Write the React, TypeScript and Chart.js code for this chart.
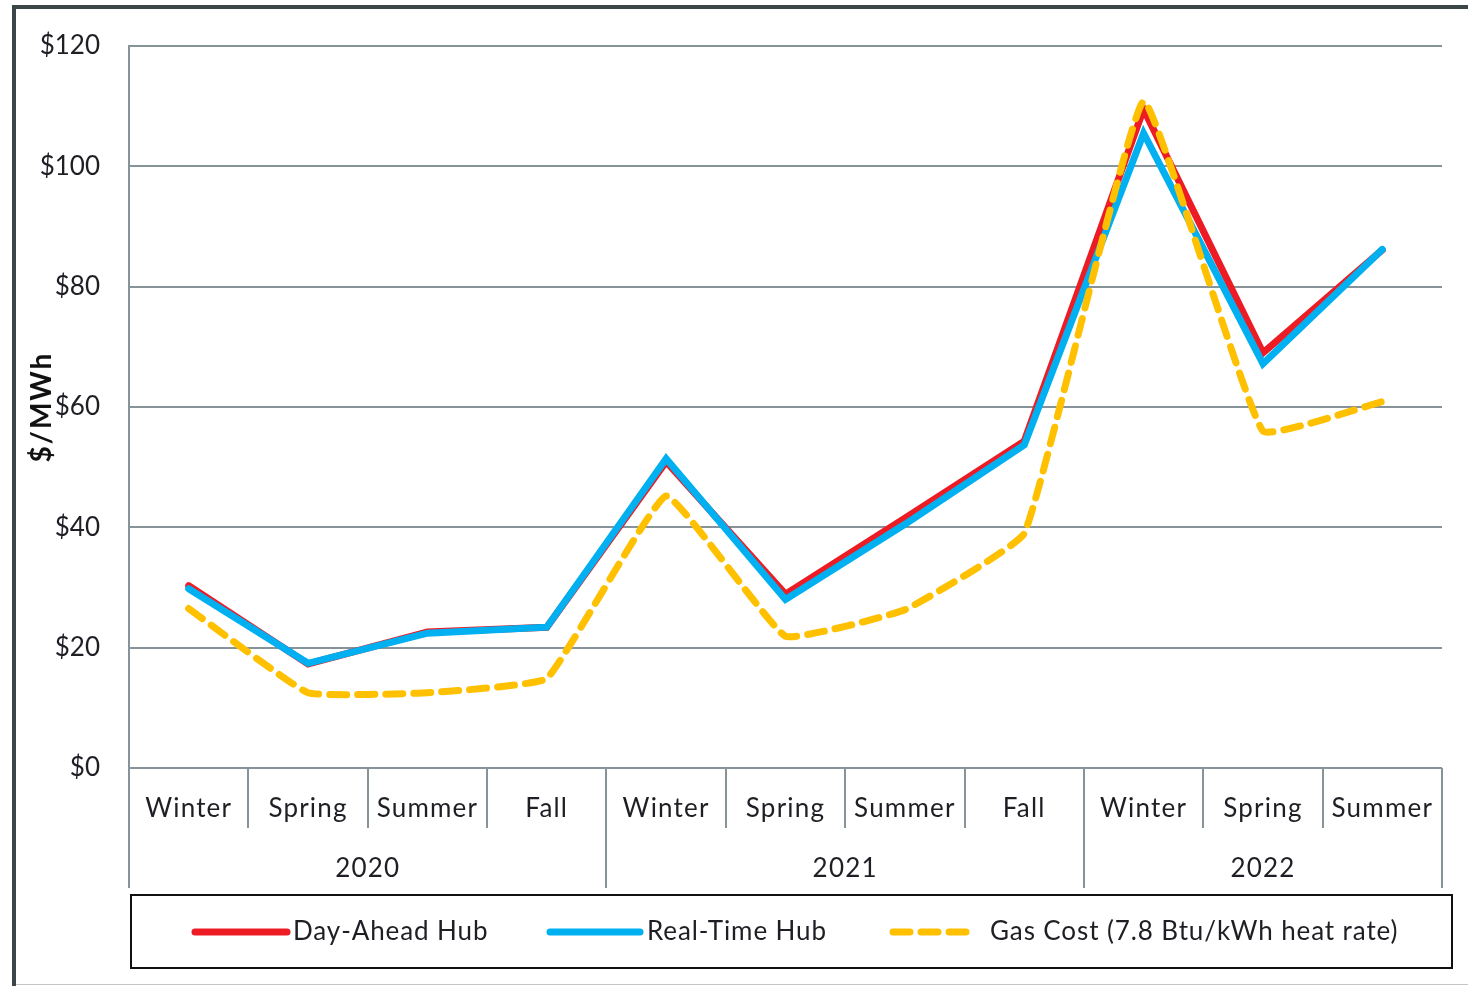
import React, { useEffect, useRef } from "react";
import { Chart, registerables } from "chart.js";

Chart.register(...registerables);

const seasons = ["Winter", "Spring", "Summer", "Fall", "Winter", "Spring", "Summer", "Fall", "Winter", "Spring", "Summer"];
const years = ["2020", "2021", "2022"];
const yearSpans = [4, 4, 3];
const dayAhead = [30.3, 17.3, 22.6, 23.4, 50.9, 28.9, 41.5, 54.3, 109.5, 69.0, 86.1];
const realTime = [29.8, 17.4, 22.4, 23.4, 51.4, 28.0, 40.5, 53.7, 105.5, 67.2, 86.2];
const gasCost = [26.5, 12.5, 12.5, 14.9, 45.2, 21.9, 26.3, 39.0, 110.8, 56.0, 60.9];
const yTicks = [0, 20, 40, 60, 80, 100, 120];

const FONT = "Lato, 'Open Sans', sans-serif";
const TEXT = "#1e1e24";
const GRID = "#86949a";

const overlay = {
  id: "overlay",
  afterDraw(chart: any) {
    const ctx = chart.ctx;
    const x = chart.scales.x;
    const area = chart.chartArea;
    const n = seasons.length;
    const step = (area.right - area.left) / n;
    const base = area.bottom;
    ctx.save();
    // outer frame
    ctx.fillStyle = "#3c4649";
    ctx.fillRect(12, 5, 4, 981);
    ctx.fillRect(12, 5, 1456, 4);
    ctx.fillStyle = "#c4c4c4";
    ctx.fillRect(16, 984, 1452, 1);

    // category axis table
    ctx.strokeStyle = GRID;
    ctx.lineWidth = 2;
    const boundaries: number[] = [];
    let acc = 0;
    boundaries.push(0);
    yearSpans.forEach((s) => { acc += s; boundaries.push(acc); });
    for (let i = 0; i <= n; i++) {
      const px = Math.round(x.getPixelForValue(i) - step / 2);
      const isYear = boundaries.includes(i);
      ctx.beginPath();
      ctx.moveTo(px, base);
      ctx.lineTo(px, isYear ? base + 120 : base + 60);
      ctx.stroke();
    }
    ctx.fillStyle = TEXT;
    ctx.font = `26px ${FONT}`;
    (ctx as any).letterSpacing = "1.2px";
    ctx.textAlign = "center";
    ctx.textBaseline = "middle";
    seasons.forEach((s, i) => {
      ctx.fillText(s, x.getPixelForValue(i), base + 41);
    });
    let start = 0;
    years.forEach((yr, k) => {
      const end = start + yearSpans[k];
      const cx = (x.getPixelForValue(start) + x.getPixelForValue(end - 1)) / 2;
      ctx.fillText(yr, cx, base + 101);
      start = end;
    });

    // y title
    ctx.save();
    ctx.translate(42, 407);
    ctx.rotate(-Math.PI / 2);
    ctx.font = `bold 28px ${FONT}`;
    (ctx as any).letterSpacing = "2px";
    ctx.fillStyle = "#111";
    ctx.fillText("$/MWh", 0, 0);
    ctx.restore();

    // legend
    ctx.strokeStyle = "#111";
    ctx.lineWidth = 2;
    ctx.strokeRect(131, 895, 1321, 73);
    const ly = 932;
    const items = [
      { x0: 195, x1: 287, color: "#ed1c24", width: 7, dash: [] as number[], label: "Day-Ahead Hub", tx: 293 },
      { x0: 550, x1: 640, color: "#00b0f0", width: 7, dash: [] as number[], label: "Real-Time Hub", tx: 647 },
      { x0: 893, x1: 975, color: "#ffc000", width: 7, dash: [17, 11], label: "Gas Cost (7.8 Btu/kWh heat rate)", tx: 990 },
    ];
    ctx.textAlign = "left";
    ctx.font = `26px ${FONT}`;
    (ctx as any).letterSpacing = "0.9px";
    items.forEach((it) => {
      ctx.beginPath();
      ctx.strokeStyle = it.color;
      ctx.lineWidth = it.width;
      ctx.lineCap = "round";
      ctx.setLineDash(it.dash);
      ctx.moveTo(it.x0, ly);
      ctx.lineTo(it.x1, ly);
      ctx.stroke();
      ctx.setLineDash([]);
      ctx.fillStyle = TEXT;
      ctx.fillText(it.label, it.tx, ly);
    });
    ctx.restore();
  },
};

export default function App() {
  const ref = useRef<HTMLCanvasElement>(null);
  useEffect(() => {
    document.body.style.margin = "0";
    const chart = new Chart(ref.current!, {
      type: "line",
      data: {
        labels: seasons,
        datasets: [
          { label: "Day-Ahead Hub", data: dayAhead, borderColor: "#ed1c24", borderWidth: 7, pointRadius: 0, order: 3, tension: 0, borderCapStyle: "round" },
          { label: "Real-Time Hub", data: realTime, borderColor: "#00b0f0", borderWidth: 7, pointRadius: 0, order: 2, tension: 0, borderCapStyle: "round" },
          { label: "Gas Cost (7.8 Btu/kWh heat rate)", data: gasCost, borderColor: "#ffc000", borderWidth: 7, borderDash: [17, 11], borderCapStyle: "round", pointRadius: 0, order: 1, tension: 0.1 },
        ],
      },
      options: {
        responsive: false,
        animation: false,
        devicePixelRatio: 1,
        layout: { padding: { left: 0, top: 46, right: 26, bottom: 218 } },
        plugins: { legend: { display: false }, tooltip: { enabled: false } },
        scales: {
          x: { type: "category", offset: true, display: false },
          y: {
            min: 0,
            max: 120,
            afterBuildTicks: (s: any) => { s.ticks = yTicks.map((v) => ({ value: v })); },
            afterFit: (s: any) => { s.width = 129; },
            ticks: { callback: (v: any) => "$" + v, padding: 29, color: TEXT, font: { family: FONT, size: 26 } },
            grid: { color: GRID, lineWidth: 2, drawTicks: false },
            border: { display: true, color: GRID, width: 2 },
          },
        },
      },
      plugins: [overlay],
    });
    return () => chart.destroy();
  }, []);
  return (
    <div style={{ position: "absolute", left: 0, top: 0, width: 1468, height: 986, background: "#fff" }}>
      <canvas ref={ref} width={1468} height={986} style={{ width: 1468, height: 986, display: "block" }} />
    </div>
  );
}
